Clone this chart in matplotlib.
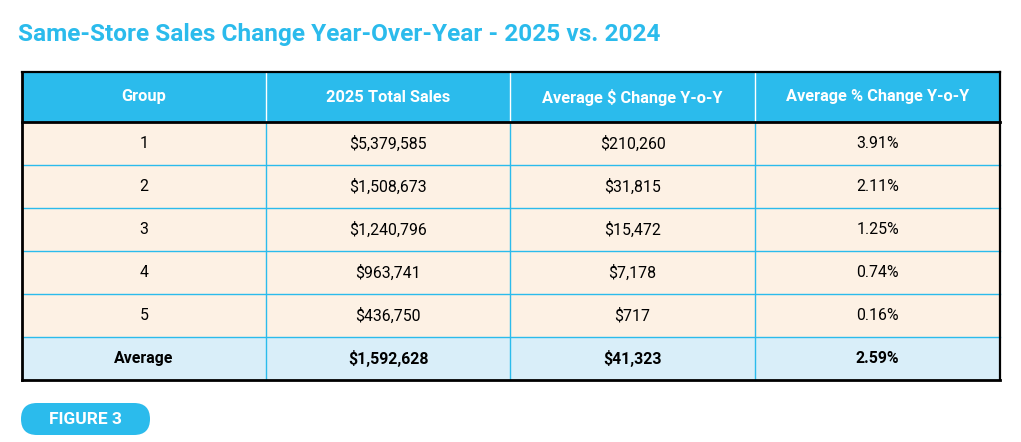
import matplotlib
matplotlib.use("Agg")
import matplotlib.pyplot as plt
from matplotlib.patches import Rectangle, FancyBboxPatch

title = "Same-Store Sales Change Year-Over-Year - 2025 vs. 2024"
headers = ["Group", "2025 Total Sales", "Average $ Change Y-o-Y", "Average % Change Y-o-Y"]
groups = ["1", "2", "3", "4", "5"]
total_sales = ["$5,379,585", "$1,508,673", "$1,240,796", "$963,741", "$436,750"]
dollar_change = ["$210,260", "$31,815", "$15,472", "$7,178", "$717"]
pct_change = ["3.91%", "2.11%", "1.25%", "0.74%", "0.16%"]
average_row = ["Average", "$1,592,628", "$41,323", "2.59%"]

BLUE = "#2bbbec"
ROW_BG = "#fdf1e4"
AVG_BG = "#d9eef9"
FONT = "Roboto"

fig = plt.figure(figsize=(10.21, 4.42), dpi=100)
ax = fig.add_axes([0, 0, 1, 1])
ax.set_xlim(0, 1021)
ax.set_ylim(442, 0)
ax.axis("off")

ax.text(18, 35, title, color=BLUE, fontsize=17.6, fontweight="bold",
        family=FONT, va="center", ha="left")

col_x = [22, 266, 510, 755, 1000]
top, head_h, row_h = 72, 50, 43

rows = [list(r) for r in zip(groups, total_sales, dollar_change, pct_change)]
rows.append(average_row)

# header
ax.add_patch(Rectangle((col_x[0], top), col_x[-1] - col_x[0], head_h, color=BLUE, lw=0))
for i, h in enumerate(headers):
    cx = (col_x[i] + col_x[i + 1]) / 2
    ax.text(cx, top + head_h / 2, h, color="white", fontsize=11.8, fontweight="bold",
            family=FONT, ha="center", va="center")
for x in col_x[1:-1]:
    ax.plot([x, x], [top, top + head_h], color="white", lw=1)

# body
y0 = top + head_h
for r, row in enumerate(rows):
    y = y0 + r * row_h
    last = r == len(rows) - 1
    ax.add_patch(Rectangle((col_x[0], y), col_x[-1] - col_x[0], row_h,
                           color=AVG_BG if last else ROW_BG, lw=0))
    for i, val in enumerate(row):
        cx = (col_x[i] + col_x[i + 1]) / 2
        ax.text(cx, y + row_h / 2, val, color="black", fontsize=11.4,
                fontweight="bold" if last else "normal", family=FONT,
                ha="center", va="center")
    if r > 0:
        ax.plot([col_x[0], col_x[-1]], [y, y], color=BLUE, lw=1)
y_end = y0 + len(rows) * row_h
for x in col_x[1:-1]:
    ax.plot([x, x], [y0, y_end], color=BLUE, lw=1)

# outer border
ax.plot([col_x[0], col_x[-1]], [top, top], color="black", lw=1.6)
ax.plot([col_x[0], col_x[-1]], [y0, y0], color="black", lw=2)
ax.plot([col_x[0], col_x[-1]], [y_end, y_end], color="black", lw=2)
ax.plot([col_x[0], col_x[0]], [top, y_end], color="black", lw=2)
ax.plot([col_x[-1], col_x[-1]], [top, y_end], color="black", lw=1.6)

# figure tag
ax.add_patch(FancyBboxPatch((21, 403), 129, 32, boxstyle="round,pad=0,rounding_size=16",
                            fc=BLUE, ec="none"))
ax.text(85.5, 419.5, "FIGURE 3", color="white", fontsize=12.5, fontweight="bold",
        family=FONT, ha="center", va="center")

fig.savefig("out.png", dpi=100)
